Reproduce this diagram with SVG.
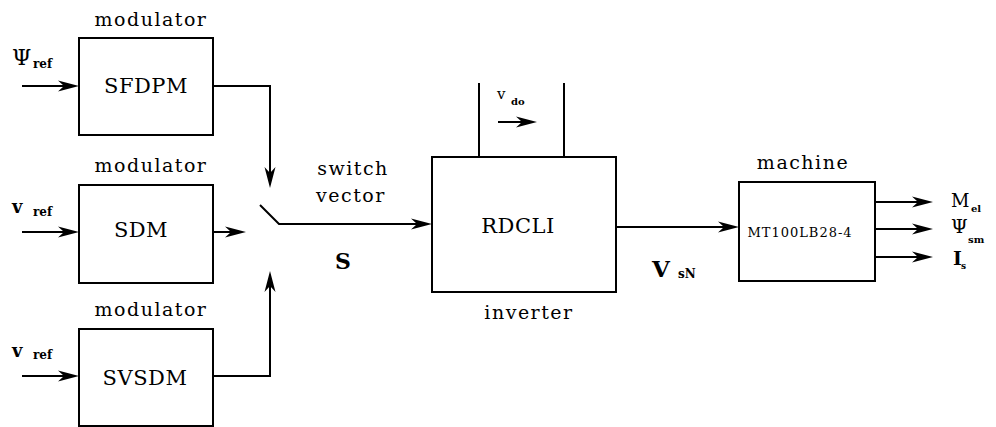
<svg xmlns="http://www.w3.org/2000/svg" xmlns:xlink="http://www.w3.org/1999/xlink" width="996" height="427" viewBox="0 0 996 427">
<defs>
<path id="arr" d="M0,0 L-21,-5.5 L-15,0 L-21,5.5 z" fill="#000"/>
</defs>
<style>
.box{fill:#fff;stroke:#000;stroke-width:2}
.ln{fill:none;stroke:#000;stroke-width:2}
text{font-family:"DejaVu Serif","Liberation Serif","Times New Roman",serif;fill:#000}
.lbl{font-size:19px;letter-spacing:1.5px;text-anchor:middle}
.nm{font-size:21px;letter-spacing:0.5px;text-anchor:middle}
.b{font-weight:bold}
</style>
<rect width="996" height="427" fill="#fff"/>

<g id="sfdpm">
<rect class="box" x="79" y="38" width="134" height="97"/>
<text class="lbl" x="151" y="26">modulator</text>
<text class="nm" x="146" y="93">SFDPM</text>
</g>
<g id="sdm">
<rect class="box" x="79" y="185" width="134" height="98"/>
<text class="lbl" x="151" y="172">modulator</text>
<text class="nm" x="141" y="237">SDM</text>
</g>
<g id="svsdm">
<rect class="box" x="79" y="329" width="134" height="97"/>
<text class="lbl" x="151" y="316">modulator</text>
<text class="nm" x="145" y="385">SVSDM</text>
</g>
<g id="rdcli">
<rect class="box" x="432" y="157" width="184" height="135"/>
<text class="nm" x="518" y="233" letter-spacing="2">RDCLI</text>
<text class="lbl" x="529" y="319">inverter</text>
</g>
<g id="machine">
<rect class="box" x="739" y="182" width="136" height="99"/>
<text class="lbl" x="803" y="169">machine</text>
<text x="800" y="237" font-size="13" letter-spacing="1" text-anchor="middle">MT100LB28-4</text>
</g>

<g id="connectors">
<line class="ln" x1="22" y1="86" x2="72" y2="86"/>
<use xlink:href="#arr" href="#arr" transform="translate(79,86)"/>
<line class="ln" x1="22" y1="232" x2="72" y2="232"/>
<use xlink:href="#arr" href="#arr" transform="translate(79,232)"/>
<line class="ln" x1="22" y1="376" x2="72" y2="376"/>
<use xlink:href="#arr" href="#arr" transform="translate(79,376)"/>
<polyline class="ln" points="213,86 270,86 270,181"/>
<use xlink:href="#arr" href="#arr" transform="translate(270,188) rotate(90)"/>
<line class="ln" x1="213" y1="232" x2="239" y2="232"/>
<use xlink:href="#arr" href="#arr" transform="translate(246,232)"/>
<polyline class="ln" points="213,376 270,376 270,278"/>
<use xlink:href="#arr" href="#arr" transform="translate(270,271) rotate(-90)"/>
<polyline class="ln" points="260,205 279,224 425,224"/>
<use xlink:href="#arr" href="#arr" transform="translate(432,224)"/>
<line class="ln" x1="479" y1="83" x2="479" y2="157"/>
<line class="ln" x1="564" y1="83" x2="564" y2="157"/>
<line class="ln" x1="498" y1="122" x2="530" y2="122"/>
<use xlink:href="#arr" href="#arr" transform="translate(537,122)"/>
<line class="ln" x1="616" y1="227" x2="732" y2="227"/>
<use xlink:href="#arr" href="#arr" transform="translate(739,227)"/>
<line class="ln" x1="875" y1="202" x2="926" y2="202"/>
<use xlink:href="#arr" href="#arr" transform="translate(933,202)"/>
<line class="ln" x1="875" y1="229" x2="926" y2="229"/>
<use xlink:href="#arr" href="#arr" transform="translate(933,229)"/>
<line class="ln" x1="875" y1="257" x2="926" y2="257"/>
<use xlink:href="#arr" href="#arr" transform="translate(933,257)"/>
</g>

<g id="labels">
<text x="12" y="65" font-size="22">Ψ</text>
<text class="b" x="33" y="68" font-size="12">ref</text>
<text class="b" x="12" y="213" font-size="18">v</text>
<text class="b" x="33" y="216" font-size="12">ref</text>
<text class="b" x="12" y="357" font-size="18">v</text>
<text class="b" x="33" y="359" font-size="12">ref</text>
<text class="lbl" x="353" y="175">switch</text>
<text class="lbl" x="351" y="202">vector</text>
<text class="b" x="343" y="269" font-size="22" text-anchor="middle">S</text>
<text x="497" y="99" font-size="15">v</text>
<text class="b" x="511" y="105" font-size="10">do</text>
<text class="b" x="652" y="277" font-size="23">V</text>
<text class="b" x="678" y="278" font-size="12">sN</text>
<text x="951" y="207" font-size="18">M</text>
<text class="b" x="971" y="212" font-size="10">el</text>
<text x="951" y="233" font-size="19">Ψ</text>
<text class="b" x="968" y="243" font-size="10">sm</text>
<text class="b" x="953" y="265" font-size="19">I</text>
<text class="b" x="961" y="269" font-size="9">s</text>
</g>
</svg>
